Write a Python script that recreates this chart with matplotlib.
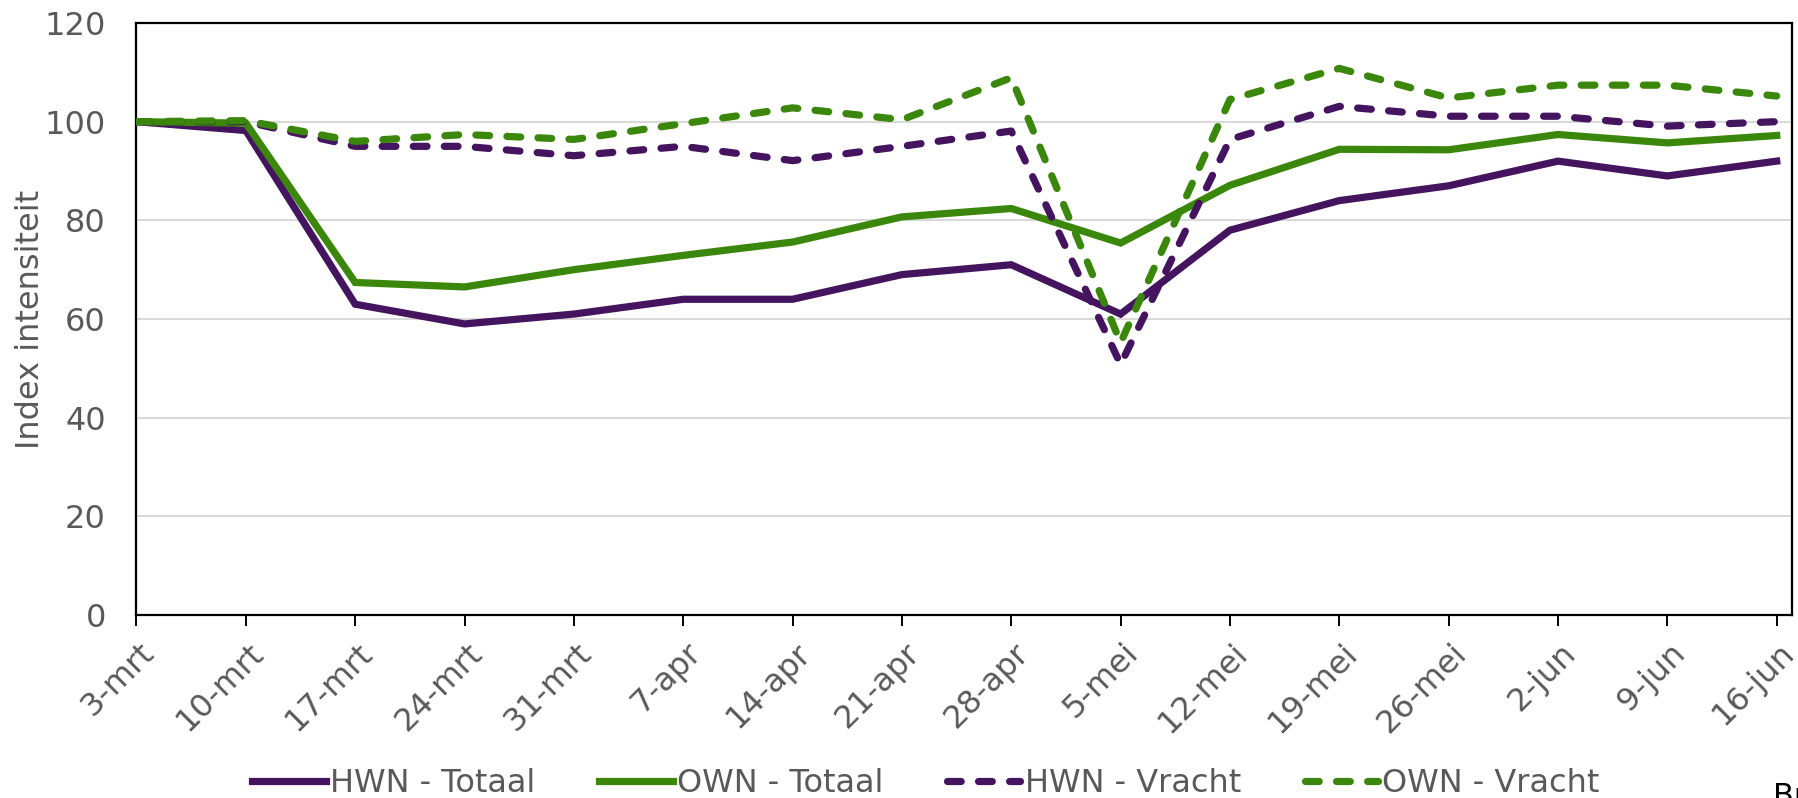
import matplotlib
matplotlib.use("Agg")
import matplotlib.pyplot as plt
import matplotlib.transforms as mtransforms
import numpy as np

categories = ["3-mrt", "10-mrt", "17-mrt", "24-mrt", "31-mrt", "7-apr", "14-apr", "21-apr",
              "28-apr", "5-mei", "12-mei", "19-mei", "26-mei", "2-jun", "9-jun", "16-jun"]
hwn_totaal = [100, 98.2, 63, 59, 61, 64, 64, 69, 71, 61, 78, 84, 87, 92, 89, 92]
own_totaal = [100, 99.7, 67.4, 66.5, 70, 72.9, 75.6, 80.7, 82.4, 75.4, 87.1, 94.4, 94.3, 97.4, 95.7, 97.2]
hwn_vracht = [100, 100, 95, 95, 93.1, 95, 92.1, 95, 98.1, 50.8, 96.4, 103.1, 101.1, 101.1, 99.1, 100]
own_vracht = [100, 100.2, 96, 97.4, 96.4, 99.6, 102.8, 100.4, 108.9, 55.2, 104.5, 110.8, 104.8, 107.4, 107.4, 105.2]
series_labels = ["HWN - Totaal", "OWN - Totaal", "HWN - Vracht", "OWN - Vracht"]

purple = "#45145F"
green = "#3A870C"
grey = "#595959"
fs = 23

W, H = 1799, 798
fig = plt.figure(figsize=(W / 100, H / 100), dpi=100)
ax = fig.add_axes([136.5 / W, 1 - 615 / H, (1792 - 136.5) / W, (615 - 23) / H])

x = np.arange(len(categories))
lw = 5.2
dash = (1.9, 2.4)
ax.plot(x, hwn_totaal, color=purple, lw=lw, solid_joinstyle="miter", label=series_labels[0], zorder=3)
ax.plot(x, own_totaal, color=green, lw=lw, solid_joinstyle="miter", label=series_labels[1], zorder=3)
ax.plot(x, hwn_vracht, color=purple, lw=lw, dashes=dash, dash_capstyle="round",
        label=series_labels[2], zorder=3)
ax.plot(x, own_vracht, color=green, lw=lw, dashes=dash, dash_capstyle="round",
        label=series_labels[3], zorder=3)

ax.set_xlim(0, len(categories) - 1 + 0.14)
ax.set_ylim(0, 120)
ax.set_yticks(np.arange(0, 121, 20))
ax.grid(axis="y", color="#D9D9D9", lw=1.5, zorder=0)
ax.set_axisbelow(True)

for s in ax.spines.values():
    s.set_color("black")
    s.set_linewidth(1.6)

ax.tick_params(axis="y", length=0, pad=22, labelsize=fs, labelcolor=grey)
ax.tick_params(axis="x", length=8, width=1.4, direction="out", color="black", pad=6,
               labelsize=fs, labelcolor=grey)
ax.set_xticks(x)
ax.set_xticklabels(categories, rotation=45, ha="right", va="center", rotation_mode="anchor")
offset = mtransforms.ScaledTranslation(13 / 100, -14 / 100, fig.dpi_scale_trans)
for lab in ax.get_xticklabels():
    lab.set_transform(lab.get_transform() + offset)

fig.text(31 / W, 1 - 319 / H, "Index intensiteit", rotation=90, ha="center", va="center",
         fontsize=fs, color=grey)

leg = fig.legend(loc="center", bbox_to_anchor=(926 / W, 1 - 784 / H), ncol=4, frameon=False,
                 fontsize=fs, handlelength=2.3, handletextpad=0.13, columnspacing=2.0,
                 labelcolor=grey)

fig.text(1773 / W, 1 - 782 / H, "Bron: Rijkswaterstaat", ha="left", va="top",
         fontsize=22, color="black")

fig.savefig("out.png", dpi=100)
